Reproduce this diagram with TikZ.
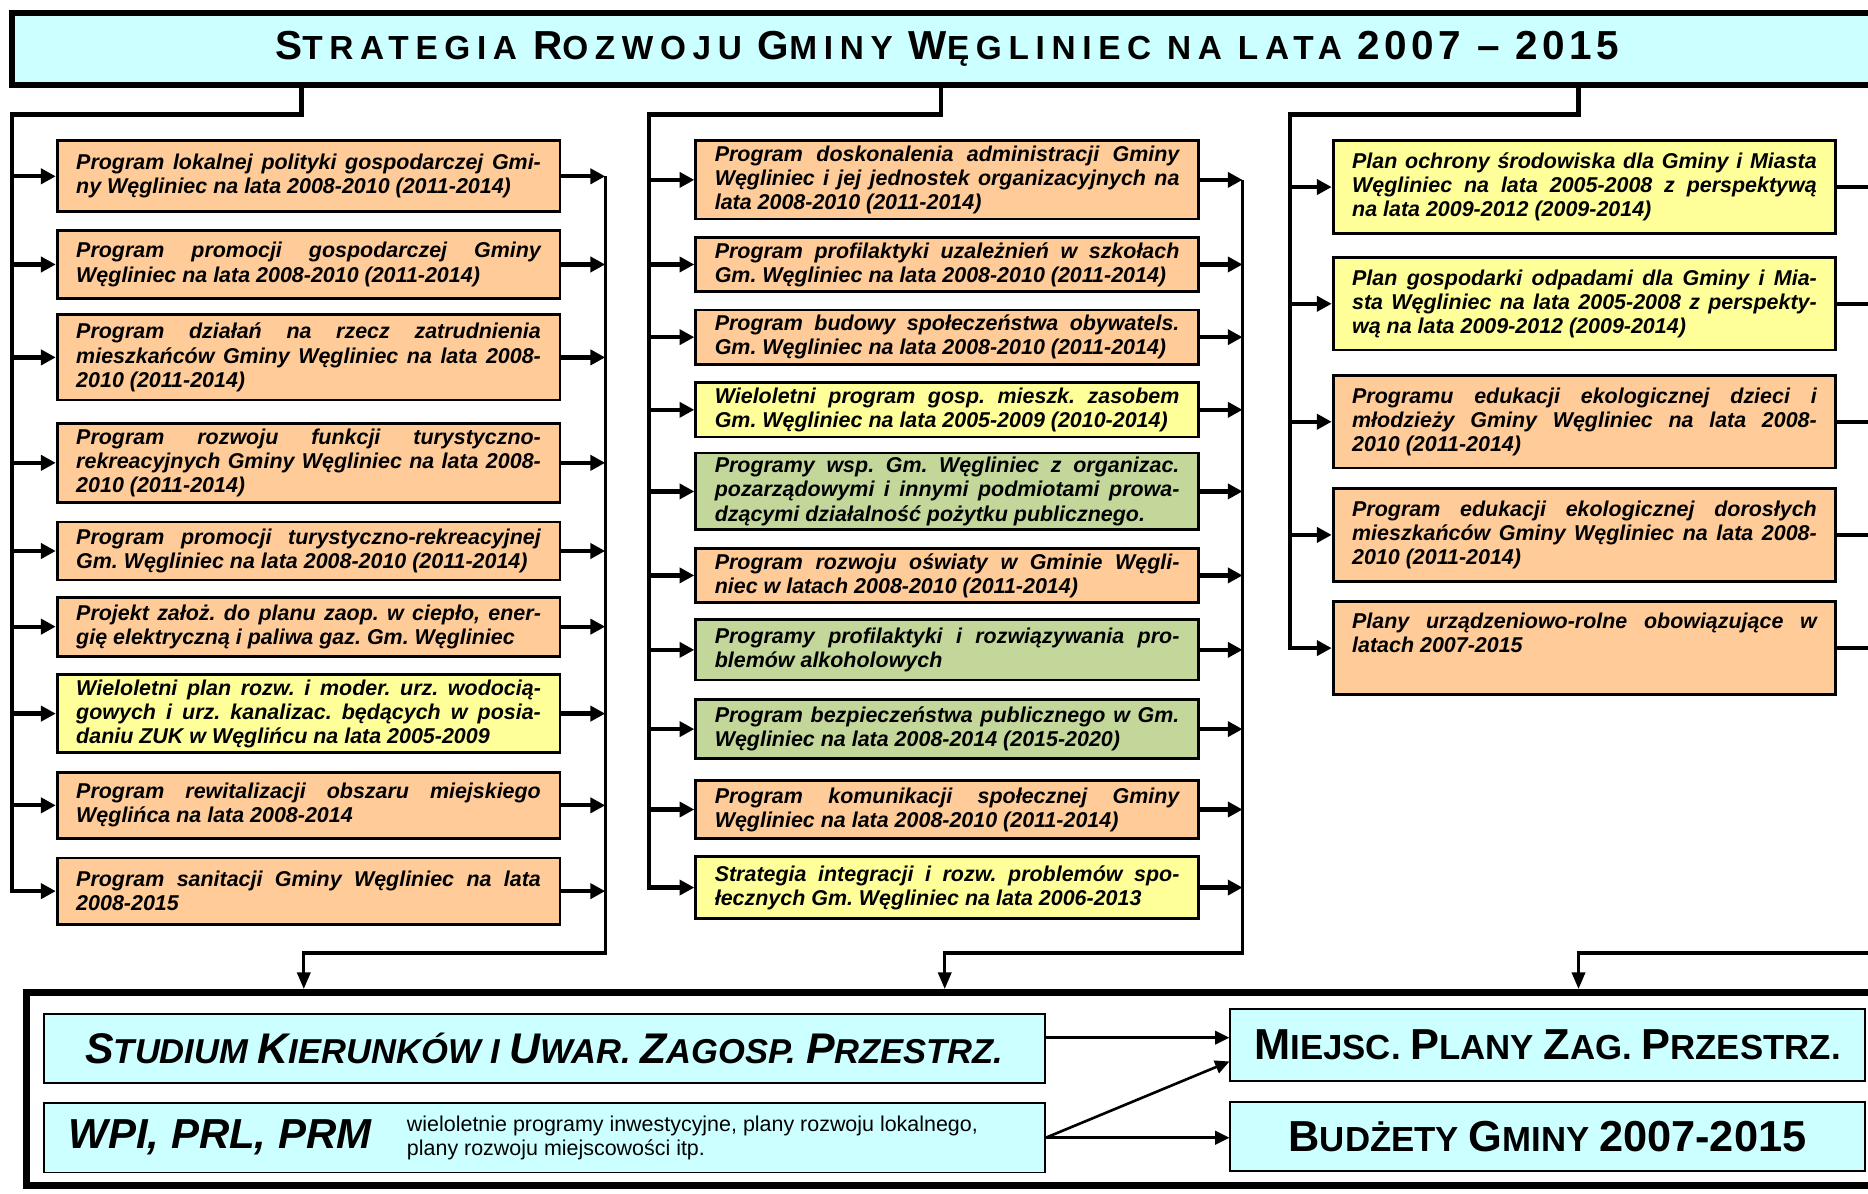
\documentclass[tikz,border=0pt]{standalone}
\usepackage{fontspec}
\setmainfont{Liberation Sans}
\newfontfamily\titlefont[LetterSpace=20]{Liberation Sans}
\newfontfamily\titlenumfont[LetterSpace=11]{Liberation Sans}
\usetikzlibrary{arrows.meta,positioning}

\definecolor{cyanbg}{HTML}{CCFFFF}
\definecolor{orangebg}{HTML}{FFCC99}
\definecolor{yellowbg}{HTML}{FFFF99}
\definecolor{greenbg}{HTML}{C4D79B}

% fake small capitals: first part big, second part small
\newcommand{\capbig}{18}
\newcommand{\capsmall}{14.5}
\newcommand{\fakesc}[2]{{\fontsize{\capbig}{\capbig}\selectfont #1}{\fontsize{\capsmall}{\capbig}\selectfont #2}}
\newcommand{\progfont}{\bfseries\itshape\fontsize{9}{10.1}\selectfont}
\newcommand{\titlestyle}{\titlefont\bfseries\def\capbig{17}\def\capsmall{14}\fontsize{14}{16}\selectfont}
\newcommand{\planstyle}{\bfseries\def\capbig{18.2}\def\capsmall{14.6}\fontsize{14.6}{18}\selectfont}

\tolerance=10000
\hbadness=10000
\frenchspacing

\begin{document}
\begin{tikzpicture}[x=0.5pt,y=-0.5pt,>={Triangle[length=6.2pt,width=6.3pt]},node distance=6.5pt,
  prog/.style={draw,line width=1.2pt,text width=195pt,inner xsep=8pt,inner ysep=1pt,align=justify,font=\progfont},
  orangebox/.style={prog,fill=orangebg},
  yellowbox/.style={prog,fill=yellowbg},
  greenbox/.style={prog,fill=greenbg},
  plan/.style={draw,line width=0.8pt,fill=cyanbg,inner sep=0pt},
  link/.style={line width=1.8pt},
  sink/.style={line width=1.4pt,>={Triangle[length=7pt,width=5.5pt]}},
  feed/.style={line width=1.1pt,>={Triangle[length=6pt,width=5.6pt]}}]

\useasboundingbox (0,0) rectangle (1568,1002);
\clip (0,0) rectangle (1568,1002);
\fill[white] (0,0) rectangle (1568,1002);

% define the title
  \node[draw,line width=2.5pt,fill=cyanbg,minimum width=785pt,minimum height=30pt,font=\titlestyle] (title) at (795,41)
{\fakesc{S}{TRATEGIA} \fakesc{R}{OZWOJU} \fakesc{G}{MINY} \fakesc{W}{ĘGLINIEC} NA LATA {\titlenumfont\fakesc{2007 – 2015}{}}};

% define the boxes of the first column
  \node[orangebox,minimum height=29.8pt] (a1) at (259,148)
{Program lokalnej polityki gospodarczej Gmi-\linebreak ny Węgliniec na lata 2008-2010 (2011-2014)};
  \node[orangebox] (a2) [below=6.5pt of a1,minimum height=28.8pt]
{Program promocji gospodarczej Gminy\linebreak Węgliniec na lata 2008-2010 (2011-2014)};
  \node[orangebox] (a3) [below=5.5pt of a2,minimum height=35.8pt]
{Program działań na rzecz zatrudnienia\linebreak mieszkańców Gminy Węgliniec na lata 2008-\linebreak 2010 (2011-2014)};
  \node[orangebox] (a4) [below=8.5pt of a3,minimum height=33.3pt]
{Program rozwoju funkcji turystyczno-\linebreak rekreacyjnych Gminy Węgliniec na lata 2008-\linebreak 2010 (2011-2014)};
  \node[orangebox] (a5) [below=7pt of a4,minimum height=24.3pt]
{Program promocji turystyczno-rekreacyjnej\linebreak Gm. Węgliniec na lata 2008-2010 (2011-2014)};
  \node[orangebox] (a6) [below=6pt of a5,minimum height=24.8pt]
{Projekt założ. do planu zaop. w ciepło, ener-\linebreak gię elektryczną i paliwa gaz. Gm. Węgliniec};
  \node[yellowbox] (a7) [below=6.5pt of a6,minimum height=32.8pt]
{Wieloletni plan rozw. i moder. urz. wodocią-\linebreak gowych i urz. kanalizac. będących w posia-\linebreak daniu ZUK w Węglińcu na lata 2005-2009};
  \node[orangebox] (a8) [below=7pt of a7,minimum height=27.8pt]
{Program rewitalizacji obszaru miejskiego\linebreak Węglińca na lata 2008-2014};
  \node[orangebox] (a9) [below=7pt of a8,minimum height=27.8pt]
{Program sanitacji Gminy Węgliniec na lata\linebreak 2008-2015};

% define the boxes of the second column
  \node[orangebox,minimum height=32.8pt] (b1) at (795,151)
{Program doskonalenia administracji Gminy\linebreak Węgliniec i jej jednostek organizacyjnych na\linebreak lata 2008-2010 (2011-2014)};
  \node[orangebox] (b2) [below=6.5pt of b1,minimum height=22.8pt]
{Program profilaktyki uzależnień w szkołach\linebreak Gm. Węgliniec na lata 2008-2010 (2011-2014)};
  \node[orangebox] (b3) [below=6.5pt of b2,minimum height=22.8pt]
{Program budowy społeczeństwa obywatels.\linebreak Gm. Węgliniec na lata 2008-2010 (2011-2014)};
  \node[yellowbox] (b4) [below=6.5pt of b3,minimum height=22.8pt]
{Wieloletni program gosp. mieszk. zasobem\linebreak Gm. Węgliniec na lata 2005-2009 (2010-2014)};
  \node[greenbox] (b5) [below=5.5pt of b4,minimum height=32.3pt]
{Programy wsp. Gm. Węgliniec z organizac.\linebreak pozarządowymi i innymi podmiotami prowa-\linebreak dzącymi działalność pożytku publicznego.};
  \node[orangebox] (b6) [below=6.5pt of b5,minimum height=22.8pt]
{Program rozwoju oświaty w Gminie Węgli-\linebreak niec w latach 2008-2010 (2011-2014)};
  \node[greenbox] (b7) [below=6pt of b6,minimum height=25.3pt]
{Programy profilaktyki i rozwiązywania pro-\linebreak blemów alkoholowych};
  \node[greenbox] (b8) [below=7pt of b7,minimum height=24.8pt]
{Program bezpieczeństwa publicznego w Gm.\linebreak Węgliniec na lata 2008-2014 (2015-2020)};
  \node[orangebox] (b9) [below=8pt of b8,minimum height=24.3pt]
{Program komunikacji społecznej Gminy\linebreak Węgliniec na lata 2008-2010 (2011-2014)};
  \node[yellowbox] (b10) [below=6.5pt of b9,minimum height=25.8pt]
{Strategia integracji i rozw. problemów spo-\linebreak łecznych Gm. Węgliniec na lata 2006-2013};

% define the boxes of the third column
  \node[yellowbox,minimum height=38.8pt] (c1) at (1330,157)
{Plan ochrony środowiska dla Gminy i Miasta\linebreak Węgliniec na lata 2005-2008 z perspektywą\linebreak na lata 2009-2012 (2009-2014)};
  \node[yellowbox] (c2) [below=9pt of c1,minimum height=38.8pt]
{Plan gospodarki odpadami dla Gminy i Mia-\linebreak sta Węgliniec na lata 2005-2008 z perspekty-\linebreak wą na lata 2009-2012 (2009-2014)};
  \node[orangebox] (c3) [below=9.5pt of c2,minimum height=38.8pt]
{Programu edukacji ekologicznej dzieci i\linebreak młodzieży Gminy Węgliniec na lata 2008-\linebreak 2010 (2011-2014)};
  \node[orangebox] (c4) [below=7.5pt of c3,minimum height=38.8pt]
{Program edukacji ekologicznej dorosłych\linebreak mieszkańców Gminy Węgliniec na lata 2008-\linebreak 2010 (2011-2014)};
  \node[orangebox] (c5) [below=7.5pt of c4,minimum height=38.8pt]
{Plany urządzeniowo-rolne obowiązujące w\linebreak latach 2007-2015\par\strut};

% define the plans at the bottom
  \node[draw,line width=2.8pt,minimum width=784pt,minimum height=81pt] (frame) at (806,914) {};
  \node[plan,minimum width=420pt,minimum height=29.2pt,font=\bfseries\itshape\fontsize{14.5}{18}\selectfont] (stud) at (457,880)
{\fakesc{S}{TUDIUM} \fakesc{K}{IERUNKÓW} I \fakesc{U}{WAR.} \fakesc{Z}{AGOSP.} \fakesc{P}{RZESTRZ.}};
  \node[plan,minimum width=420pt,minimum height=29.2pt] (wpi) at (457,955) {};
  \node[anchor=west,inner sep=0pt,font=\bfseries\itshape\fontsize{17.6}{20}\selectfont] (wpit) at ([xshift=10.5pt]wpi.west)
{WPI, PRL, PRM};
  \node[inner sep=0pt,align=left,font=\fontsize{9}{10}\selectfont] (wpid) [right=14.5pt of wpit]
{wieloletnie programy inwestycyjne, plany rozwoju lokalnego,\\plany rozwoju miejscowości itp.};
  \node[plan,minimum width=266.2pt,minimum height=30.2pt,font=\planstyle] (mpz) at (1299,877)
{\fakesc{M}{IEJSC.} \fakesc{P}{LANY} \fakesc{Z}{AG.} \fakesc{P}{RZESTRZ.}};
  \node[plan,minimum width=266.2pt,minimum height=29.2pt,font=\planstyle] (bud) at (1299,954)
{\fakesc{B}{UDŻETY} \fakesc{G}{MINY} \fakesc{2007-2015}{}};

% define the links
  \coordinate (d1) at (253,96);  \coordinate (l1) at (10,96);
  \coordinate (d2) at (790,96);  \coordinate (l2) at (545,96);
  \coordinate (d3) at (1325,96); \coordinate (l3) at (1083,96);
  \coordinate (r1) at (508,800);  \coordinate (e1) at (255,800);
  \coordinate (r2) at (1043,800); \coordinate (e2) at (793,800);
  \coordinate (r3) at (1582,800); \coordinate (e3) at (1325,800);

  \draw[link,->] (title.south -| d1) -- (d1) -- (l1) -- (l1 |- a9.west) -- (a9.west);
  \foreach \n in {1,...,8} \draw[link,->] (l1 |- a\n.west) -- (a\n.west);
  \foreach \n in {1,...,9} \draw[link,->] (a\n.east) -- (a\n.east -| r1);
  \draw[sink,->] (r1 |- a1.east) -- (r1) -- (e1) -- (e1 |- frame.north);

  \draw[link,->] (title.south -| d2) -- (d2) -- (l2) -- (l2 |- b10.west) -- (b10.west);
  \foreach \n in {1,...,9} \draw[link,->] (l2 |- b\n.west) -- (b\n.west);
  \foreach \n in {1,...,10} \draw[link,->] (b\n.east) -- (b\n.east -| r2);
  \draw[sink,->] (r2 |- b1.east) -- (r2) -- (e2) -- (e2 |- frame.north);

  \draw[link,->] (title.south -| d3) -- (d3) -- (l3) -- (l3 |- c5.west) -- (c5.west);
  \foreach \n in {1,...,4} \draw[link,->] (l3 |- c\n.west) -- (c\n.west);
  \foreach \n in {1,...,5} \draw[link,->] (c\n.east) -- (c\n.east -| r3);
  \draw[sink,->] (r3 |- c1.east) -- (r3) -- (e3) -- (e3 |- frame.north);

  \draw[feed,->] ([yshift=4.5pt]stud.east) -- ([yshift=4.5pt]stud.east -| mpz.west);
  \draw[feed,->] (wpi.east) -- ([yshift=-7pt]mpz.west);
  \draw[feed,->] (wpi.east) -- (wpi.east -| bud.west);
\end{tikzpicture}
\end{document}
